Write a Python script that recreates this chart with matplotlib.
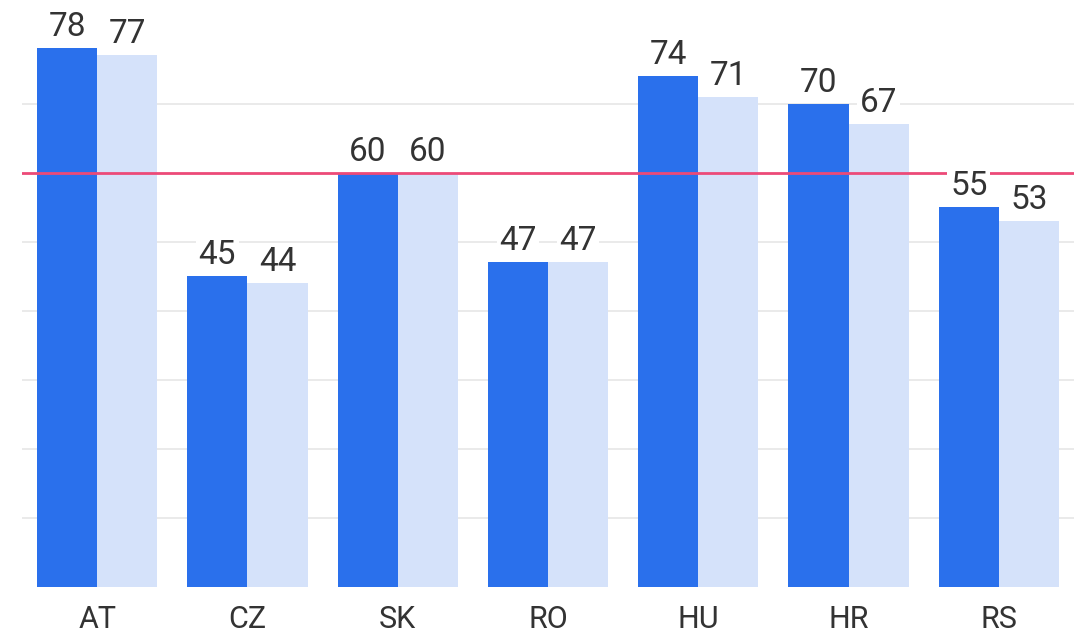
import matplotlib
matplotlib.use("Agg")
import matplotlib.pyplot as plt
import numpy as np

categories = ["AT", "CZ", "SK", "RO", "HU", "HR", "RS"]
series_a = [78, 45, 60, 47, 74, 70, 55]
series_b = [77, 44, 60, 47, 71, 67, 53]
reference_value = 60
grid_values = [10, 20, 30, 40, 50, 70]

plt.rcParams['font.family'] = ['Roboto', 'DejaVu Sans']

fig = plt.figure(figsize=(10.84, 6.36), dpi=100)
ax = fig.add_axes([22/1084, 49/636, (1074-22)/1084, 587/636])

x = np.arange(len(categories))
w = 0.4
dark = "#2a70ec"
light = "#d5e2fa"

for g in grid_values:
    ax.axhline(g, color="#e6e6e6", lw=1.2, zorder=0)

ax.bar(x - w/2, series_a, width=w, color=dark, zorder=2)
ax.bar(x + w/2, series_b, width=w, color=light, zorder=2)
ax.axhline(reference_value, color="#ec4a78", lw=2, zorder=3)

for xs, vals in ((x - w/2, series_a), (x + w/2, series_b)):
    for xi, v in zip(xs, vals):
        ax.annotate(str(v), (xi, v), xytext=(0, 8.6), textcoords="offset points",
                    ha="center", va="baseline", fontsize=24, color="#333333",
                    zorder=4,
                    bbox=dict(boxstyle="square,pad=0.08", fc="white", ec="none"))

ax.set_xlim(-0.5, 6.5)
ax.set_ylim(0, 85)
ax.set_xticks(x)
ax.set_xticklabels(categories, fontsize=22, color="#333333")
ax.tick_params(axis="x", length=0, pad=13)
ax.set_yticks([])
for s in ax.spines.values():
    s.set_visible(False)

fig.savefig("out.png", dpi=100)
